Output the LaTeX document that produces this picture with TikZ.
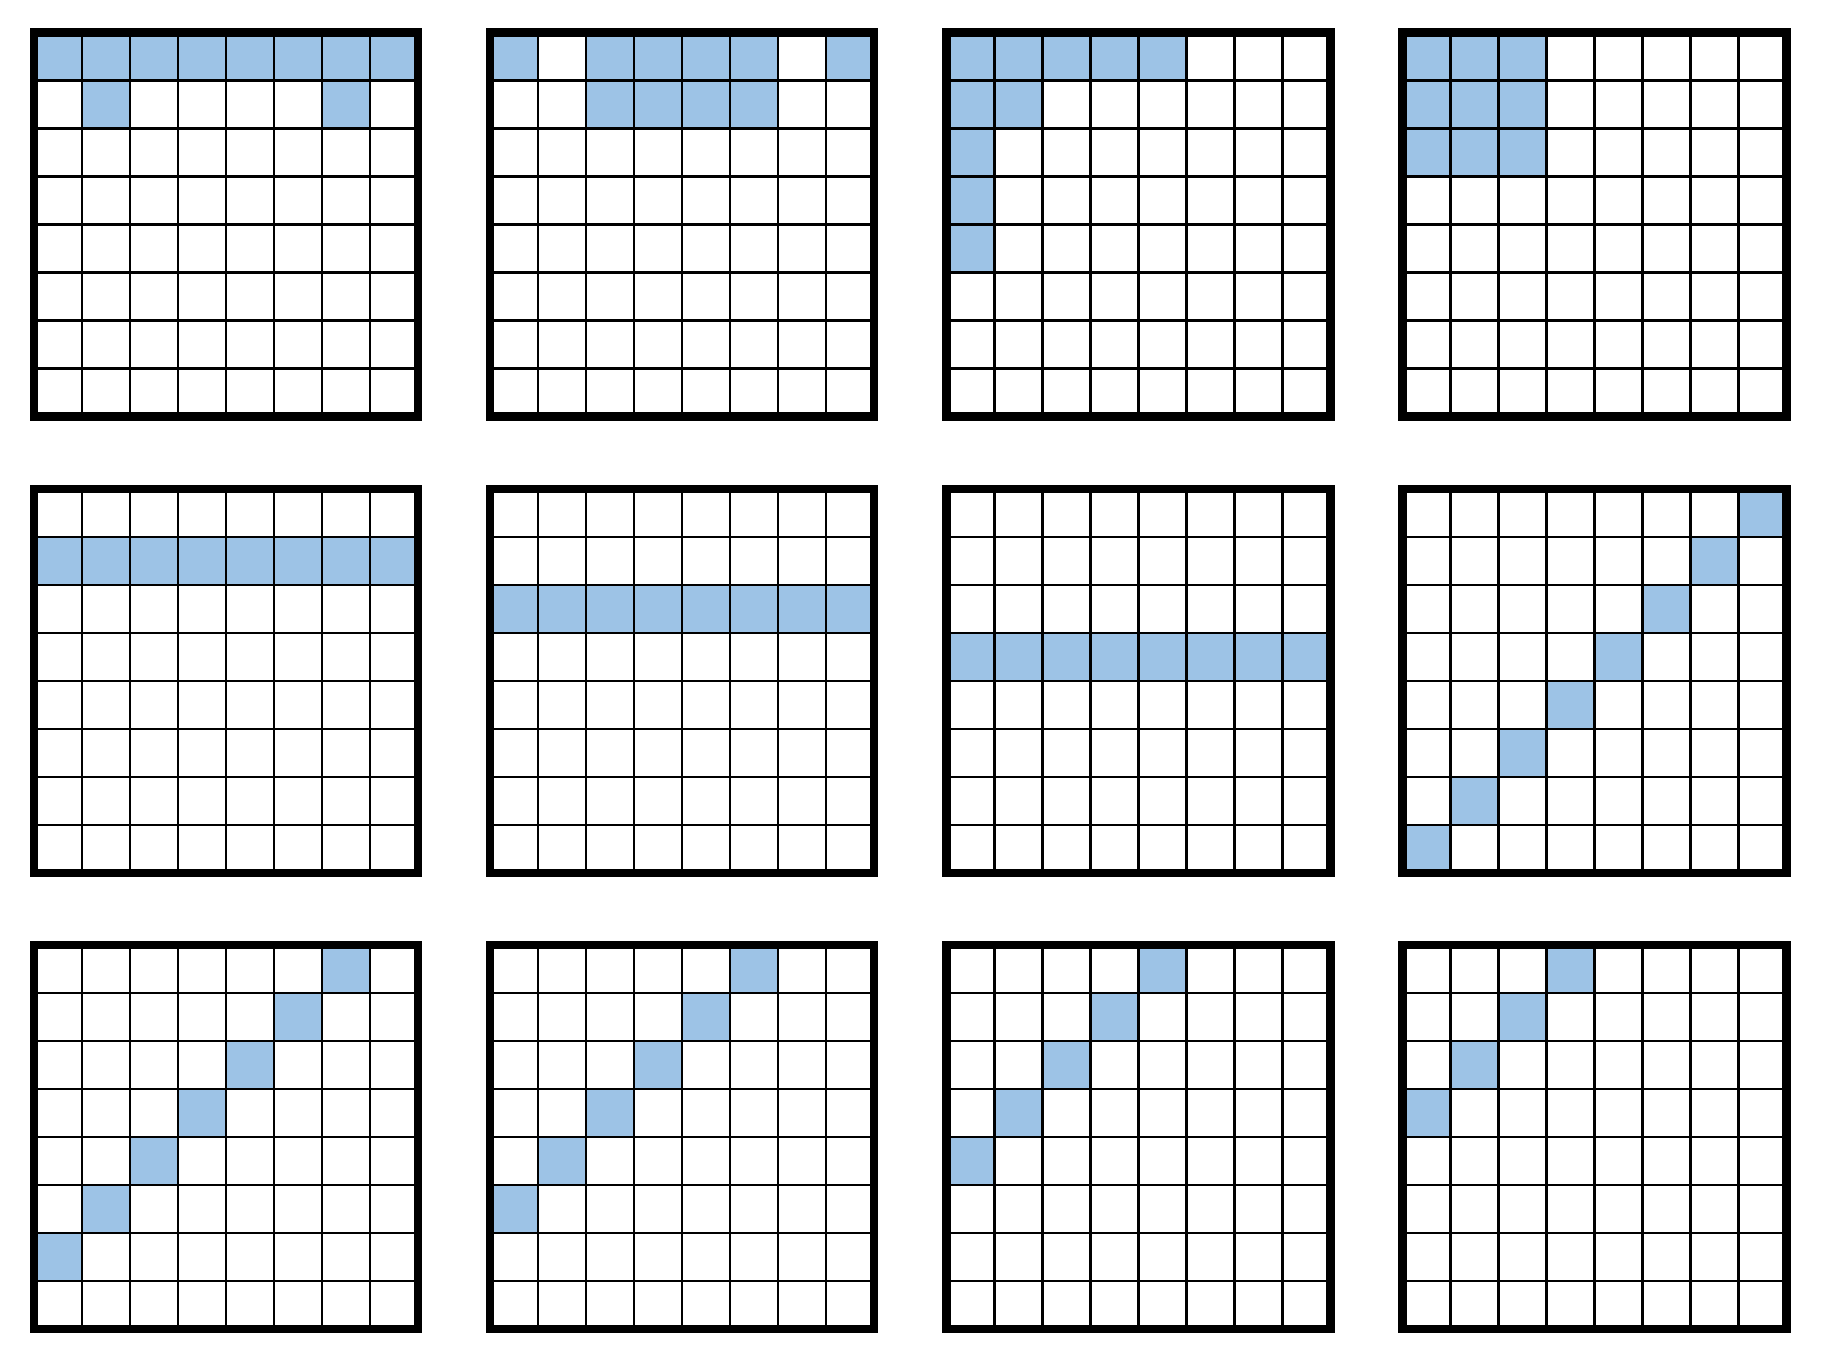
\documentclass[tikz,border=0pt]{standalone}
\definecolor{cellblue}{HTML}{9DC3E6}
\tikzset{
  cellfill/.style={fill=cellblue},
  thinline/.style={line width=1.25pt},
  frameline/.style={line width=4.25pt, line join=miter}
}
\newcommand{\gridcell}[4]{%
  \fill[cellfill] ({34+456.2*#1+48*#3},{32.5+456.25*#2+48*#4}) rectangle +(48,48);}
\begin{document}
\begin{tikzpicture}[x=0.5pt,y=-0.5pt]
\fill[white] (0,0) rectangle (1821,1360);
\useasboundingbox (0,0) rectangle (1821,1360);
% grid (0,0)
\foreach \c in {0,...,7} {\gridcell{0}{0}{\c}{0}}
\gridcell{0}{0}{1}{1}\gridcell{0}{0}{6}{1}
% grid (1,0)
\foreach \c in {0,2,3,4,5,7} {\gridcell{1}{0}{\c}{0}}
\foreach \c in {2,3,4,5} {\gridcell{1}{0}{\c}{1}}
% grid (2,0)
\foreach \c in {0,...,4} {\gridcell{2}{0}{\c}{0}}
\gridcell{2}{0}{0}{1}\gridcell{2}{0}{1}{1}
\foreach \r in {2,3,4} {\gridcell{2}{0}{0}{\r}}
% grid (3,0)
\foreach \c in {0,1,2} {\foreach \r in {0,1,2} {\gridcell{3}{0}{\c}{\r}}}
% row 1 grids
\foreach \c in {0,...,7} {\gridcell{0}{1}{\c}{1}\gridcell{1}{1}{\c}{2}\gridcell{2}{1}{\c}{3}}
\foreach \c in {0,...,7} {\pgfmathtruncatemacro\rr{7-\c}\gridcell{3}{1}{\c}{\rr}}
% row 2 grids (diagonals)
\foreach \c in {0,...,6} {\pgfmathtruncatemacro\rr{6-\c}\gridcell{0}{2}{\c}{\rr}}
\foreach \c in {0,...,5} {\pgfmathtruncatemacro\rr{5-\c}\gridcell{1}{2}{\c}{\rr}}
\foreach \c in {0,...,4} {\pgfmathtruncatemacro\rr{4-\c}\gridcell{2}{2}{\c}{\rr}}
\foreach \c in {0,...,3} {\pgfmathtruncatemacro\rr{3-\c}\gridcell{3}{2}{\c}{\rr}}
% grid lines and frames
\foreach \gc in {0,...,3} {
  \foreach \gr in {0,1,2} {
    \pgfmathsetmacro\gx{34+456.2*\gc}
    \pgfmathsetmacro\gy{32.5+456.25*\gr}
    \foreach \i in {1,...,7} {
      \draw[thinline] ({\gx+48*\i},\gy) -- ({\gx+48*\i},{\gy+384});
      \draw[thinline] (\gx,{\gy+48*\i}) -- ({\gx+384},{\gy+48*\i});
    }
    \draw[frameline] (\gx,\gy) rectangle ({\gx+384},{\gy+384});
  }
}
\end{tikzpicture}
\end{document}
